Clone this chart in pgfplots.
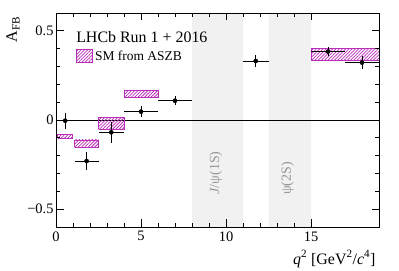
\documentclass[border=0pt]{standalone}
\usepackage{fontspec}
\setmainfont{Liberation Serif}
\usepackage{pgfplots}
\pgfplotsset{compat=1.18}
\usetikzlibrary{patterns.meta}
\definecolor{smmag}{RGB}{185,45,185}
\definecolor{bandgray}{RGB}{241,241,241}
\definecolor{labgray}{RGB}{150,150,150}
\tikzset{smbox/.style={pattern={Lines[angle=45,distance=2.3bp,line width=0.75bp]}, pattern color=smmag, draw=smmag, line width=0.9bp}}

\pgfplotstableread{
x    ex    y      ey
0.54 0.44 -0.004 0.045
1.8  0.7  -0.230 0.049
3.25 0.75 -0.069 0.058
5.0  1.0   0.047 0.032
7.0  1.0   0.108 0.026
11.75 0.75 0.331 0.032
16.0 1.0   0.384 0.024
18.0 1.0   0.322 0.036
}\datatable

\begin{document}
\begin{tikzpicture}
\begin{axis}[
  scale only axis,
  width=323bp, height=214bp,
  xmin=0, xmax=19, ymin=-0.6, ymax=0.6,
  xtick={0,5,10,15}, minor x tick num=4,
  ytick={-0.5,0,0.5}, yticklabels={−0.5,0,0.5}, minor y tick num=4,
  tick align=inside,
  major tick length=7.5bp, minor tick length=4bp,
  tick style={line width=0.7bp, black},
  axis line style={line width=0.8bp},
  axis on top,
  /pgf/number format/assume math mode=true,
  ticklabel style={font=\fontsize{14.5}{16}\selectfont},
  xticklabel style={yshift=-1bp},
  yticklabel style={xshift=1bp},
  xlabel={\textit{q}\textsuperscript{2} [GeV\textsuperscript{2}/\textit{c}\textsuperscript{4}]},
  every axis x label/.style={at={(axis description cs:1,0)}, anchor=base east, yshift=-37bp, font=\fontsize{16}{18}\selectfont},
  ylabel={A\textsubscript{FB}},
  every axis y label/.style={at={([xshift=-39bp]axis description cs:0,1)}, rotate=90, anchor=base east, font=\fontsize{16}{18}\selectfont},
  legend style={at={(axis description cs:0.062,0.797)}, anchor=west, draw=none, fill=none, inner sep=0pt, font=\fontsize{13.5}{15}\selectfont},
  legend cell align=left,
]
% charmonium vetoes
\addplot[fill=bandgray, draw=none, forget plot] coordinates {(8,-0.6) (11,-0.6) (11,0.6) (8,0.6) (8,-0.6)};
\addplot[fill=bandgray, draw=none, forget plot] coordinates {(12.5,-0.6) (15,-0.6) (15,0.6) (12.5,0.6) (12.5,-0.6)};
\node[rotate=90, anchor=west, text=labgray, font=\fontsize{14}{16}\selectfont] at (axis cs:9.4,-0.44) {\textit{J}/ψ(1S)};
\node[rotate=90, anchor=west, text=labgray, font=\fontsize{14}{16}\selectfont] at (axis cs:13.62,-0.44) {ψ(2S)};
% zero line
\addplot[black, line width=0.6bp, forget plot] coordinates {(0,0) (19,0)};
% SM boxes
\addplot[smbox, forget plot] coordinates {(0.1,-0.103) (0.98,-0.103) (0.98,-0.080) (0.1,-0.080) (0.1,-0.103)};
\addplot[smbox, forget plot] coordinates {(1.1,-0.154) (2.5,-0.154) (2.5,-0.112) (1.1,-0.112) (1.1,-0.154)};
\addplot[smbox, forget plot] coordinates {(2.5,-0.052) (4.0,-0.052) (4.0,0.013) (2.5,0.013) (2.5,-0.052)};
\addplot[smbox, forget plot] coordinates {(4.0,0.127) (6.0,0.127) (6.0,0.165) (4.0,0.165) (4.0,0.127)};
\addplot[smbox, forget plot] coordinates {(15.0,0.335) (19.0,0.335) (19.0,0.400) (15.0,0.400) (15.0,0.335)};
% data
\addplot[only marks, mark=*, mark size=2.1bp, black, forget plot,
  error bars/.cd, x dir=both, x explicit, y dir=both, y explicit,
  error mark=none, error bar style={line width=0.8bp, black}]
  table[x=x, y=y, x error=ex, y error=ey] {\datatable};
\addlegendimage{legend image code/.code={\draw[smbox] (0bp,-6.5bp) rectangle (16bp,6.5bp);}}
\addlegendentry{SM from ASZB}
\node[anchor=base west, font=\fontsize{16}{18}\selectfont, inner sep=0pt] at (axis cs:1.18,0.434) {LHCb Run 1 + 2016};
\end{axis}
\pgfresetboundingbox
\path[use as bounding box] ([shift={(-56bp,-44bp)}]current axis.south west) rectangle ([shift={(20bp,13bp)}]current axis.north east);
\end{tikzpicture}
\end{document}
